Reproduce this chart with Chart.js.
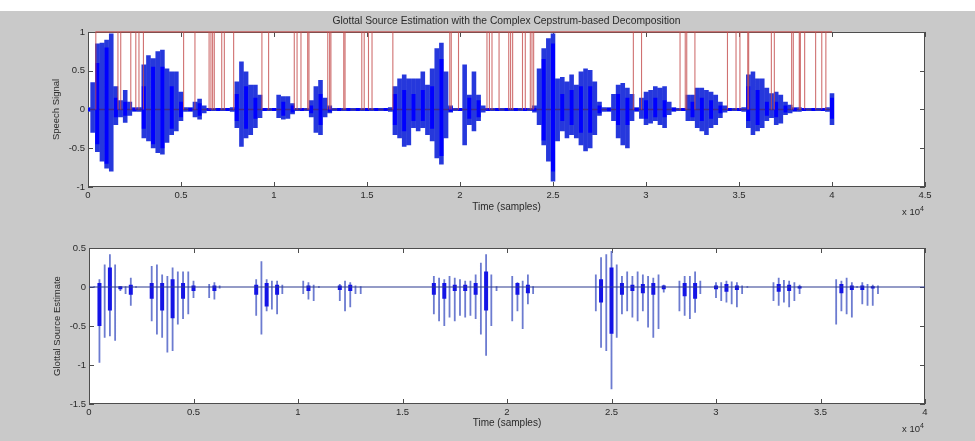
<!DOCTYPE html>
<html>
<head>
<meta charset="utf-8">
<script src="https://cdn.jsdelivr.net/npm/chart.js@4.4.1/dist/chart.umd.min.js"></script>
<style>
  body { margin: 0; width: 975px; height: 441px; overflow: hidden; background: #c9c9c9; position: relative; }
  #strip { position: absolute; left: 0; top: 0; width: 975px; height: 11px; background: #fff; }
  canvas { position: absolute; left: 0; }
  .exp { position: absolute; font: 9.5px 'Liberation Sans', Arial, sans-serif; color: #2a2a2a; line-height: 12px; white-space: nowrap; }
  .exp sup { font-size: 7px; vertical-align: 4px; line-height: 0; }
</style>
</head>
<body>
<div id="strip"></div>
<canvas id="top" width="975" height="222" style="top:0"></canvas>
<canvas id="bottom" width="975" height="219" style="top:222px"></canvas>
<div class="exp" style="left:902px; top:206px">x 10<sup>4</sup></div>
<div class="exp" style="left:902px; top:423px">x 10<sup>4</sup></div>
<script>
// axe x en unites de 10^4 echantillons, un point tous les 250 echantillons
const STEP = 0.025;
const CORE_STEP = 0.05;

// signal de parole : enveloppe haute / basse
const speechHi = [
  0.03,0.35,0.85,0.86,0.90,0.98,0.30,0.12,0.25,0.10,
  0.03,0.03,0.58,0.70,0.66,0.75,0.77,0.53,0.49,0.49,
  0.23,0.03,0.03,0.10,0.14,0.05,0.02,0.02,0.02,0.02,
  0.02,0.03,0.36,0.62,0.49,0.32,0.32,0.19,0.02,0.02,
  0.02,0.19,0.17,0.17,0.08,0.02,0.02,0.02,0.12,0.30,
  0.38,0.15,0.05,0.02,0.02,0.02,0.02,0.02,0.02,0.02,
  0.02,0.02,0.02,0.02,0.02,0.03,0.30,0.40,0.45,0.40,
  0.40,0.40,0.49,0.32,0.53,0.79,0.86,0.49,0.05,0.02,
  0.02,0.58,0.19,0.49,0.19,0.05,0.02,0.02,0.02,0.02,
  0.02,0.02,0.02,0.02,0.02,0.02,0.05,0.53,0.79,0.92,
  0.98,0.40,0.42,0.36,0.45,0.32,0.49,0.53,0.51,0.36,
  0.10,0.03,0.03,0.20,0.32,0.34,0.28,0.20,0.03,0.15,
  0.23,0.25,0.30,0.28,0.30,0.10,0.03,0.02,0.02,0.19,
  0.19,0.28,0.28,0.25,0.23,0.19,0.10,0.05,0.02,0.02,
  0.02,0.03,0.45,0.49,0.40,0.40,0.28,0.21,0.23,0.19,
  0.10,0.06,0.03,0.03,0.02,0.02,0.02,0.02,0.02,0.03,
  0.21
];
const speechLo = [
  -0.03,-0.30,-0.55,-0.67,-0.76,-0.80,-0.20,-0.10,-0.17,-0.08,
  -0.03,-0.03,-0.37,-0.41,-0.50,-0.56,-0.58,-0.43,-0.33,-0.28,
  -0.15,-0.03,-0.03,-0.10,-0.13,-0.05,-0.02,-0.02,-0.02,-0.02,
  -0.02,-0.03,-0.24,-0.48,-0.37,-0.33,-0.24,-0.11,-0.02,-0.02,
  -0.02,-0.11,-0.13,-0.12,-0.06,-0.02,-0.02,-0.02,-0.10,-0.30,
  -0.33,-0.10,-0.05,-0.02,-0.02,-0.02,-0.02,-0.02,-0.02,-0.02,
  -0.02,-0.02,-0.02,-0.02,-0.02,-0.03,-0.33,-0.37,-0.48,-0.46,
  -0.24,-0.28,-0.24,-0.33,-0.41,-0.63,-0.71,-0.37,-0.04,-0.02,
  -0.02,-0.46,-0.20,-0.28,-0.15,-0.04,-0.02,-0.02,-0.02,-0.02,
  -0.02,-0.02,-0.02,-0.02,-0.02,-0.02,-0.04,-0.20,-0.46,-0.67,
  -0.93,-0.41,-0.28,-0.37,-0.33,-0.37,-0.46,-0.54,-0.50,-0.33,
  -0.08,-0.03,-0.03,-0.15,-0.37,-0.46,-0.50,-0.15,-0.03,-0.12,
  -0.20,-0.18,-0.15,-0.20,-0.24,-0.07,-0.03,-0.02,-0.02,-0.15,
  -0.15,-0.24,-0.28,-0.33,-0.24,-0.20,-0.11,-0.04,-0.02,-0.02,
  -0.02,-0.03,-0.24,-0.33,-0.28,-0.24,-0.15,-0.11,-0.20,-0.18,
  -0.07,-0.05,-0.03,-0.03,-0.02,-0.02,-0.02,-0.02,-0.02,-0.03,
  -0.20
];
// partie dense du signal (un point tous les 500 echantillons)
const speechCoreHi = [
  0.02,0.60,0.80,0.15,0.10,0.02,0.30,0.55,0.55,0.30,
  0.10,0.02,0.08,0.02,0.02,0.02,0.20,0.30,0.15,0.02,
  0.02,0.10,0.05,0.02,0.05,0.20,0.03,0.02,0.02,0.02,
  0.02,0.02,0.02,0.20,0.25,0.20,0.25,0.30,0.65,0.03,
  0.02,0.15,0.12,0.02,0.02,0.02,0.02,0.02,0.02,0.65,
  0.85,0.20,0.25,0.30,0.30,0.05,0.02,0.20,0.15,0.02,
  0.12,0.15,0.12,0.02,0.02,0.10,0.15,0.12,0.05,0.02,
  0.02,0.30,0.25,0.10,0.10,0.05,0.02,0.02,0.02,0.02,
  0.15
];
const speechCoreLo = [
  -0.02,-0.45,-0.70,-0.10,-0.08,-0.02,-0.25,-0.45,-0.50,-0.25,
  -0.10,-0.02,-0.08,-0.02,-0.02,-0.02,-0.15,-0.25,-0.12,-0.02,
  -0.02,-0.08,-0.04,-0.02,-0.05,-0.20,-0.03,-0.02,-0.02,-0.02,
  -0.02,-0.02,-0.02,-0.20,-0.28,-0.15,-0.15,-0.25,-0.60,-0.03,
  -0.02,-0.12,-0.10,-0.02,-0.02,-0.02,-0.02,-0.02,-0.02,-0.40,
  -0.80,-0.15,-0.20,-0.30,-0.30,-0.05,-0.02,-0.20,-0.20,-0.02,
  -0.12,-0.10,-0.10,-0.02,-0.02,-0.10,-0.15,-0.12,-0.05,-0.02,
  -0.02,-0.15,-0.20,-0.08,-0.10,-0.04,-0.02,-0.02,-0.02,-0.02,
  -0.12
];
// positions des traits rouges (x 10^4 echantillons)
const redMarks = [
  0.042,0.161,0.176,0.230,0.257,0.274,0.298,0.514,0.575,0.651,
  0.661,0.670,0.679,0.719,0.733,0.783,0.935,0.971,1.109,1.124,
  1.145,1.181,1.188,1.289,1.299,1.306,1.375,1.382,1.472,1.485,
  1.508,1.527,1.639,1.945,1.953,1.992,2.145,2.158,2.172,2.210,
  2.262,2.272,2.283,2.336,2.351,2.378,2.387,2.396,2.932,2.976,
  3.183,3.211,3.219,3.263,3.438,3.484,3.505,3.547,3.552,3.674,
  3.690,3.783,3.792,3.824,3.830,3.853,3.912,3.945,3.967
];
const redStart = 0.04, redEnd = 4.0;

// estimation de la source glottale
const glottalHi = [
  0,0.01,0.10,0.29,0.42,0.29,0.01,0.01,0.12,0.01,
  0,0,0.27,0.29,0.16,0.14,0.25,0.20,0.20,0.20,
  0.08,0,0,0.04,0.06,0.02,0,0,0,0,
  0,0,0.10,0.33,0.10,0.08,0.08,0.03,0,0,
  0,0.08,0.06,0.03,0.01,0,0,0,0.04,0.08,
  0.06,0.02,0.01,0,0,0,0,0,0,0,
  0,0,0,0,0,0,0.14,0.12,0.10,0.14,
  0.12,0.10,0.08,0.08,0.16,0.31,0.42,0.16,0.01,0,
  0,0.14,0.06,0.08,0.16,0.01,0,0,0,0,
  0,0,0,0,0,0,0,0.16,0.38,0.42,
  0.46,0.29,0.14,0.20,0.14,0.20,0.16,0.14,0.12,0.16,
  0.03,0,0,0.08,0.14,0.14,0.20,0.08,0,0,
  0.06,0.06,0.08,0.07,0.06,0.02,0.01,0,0,0,
  0,0.06,0.12,0.09,0.08,0.06,0.03,0,0,0,
  0,0,0,0.10,0.08,0.12,0.06,0.01,0.06,0.04,
  0.03,0.02,0,0,0,0,0,0,0,0,
  0
];
const glottalLo = [
  0,-0.01,-0.97,-0.65,-0.63,-0.69,-0.05,-0.09,-0.24,-0.01,
  0,0,-0.44,-0.61,-0.65,-0.84,-0.82,-0.48,-0.41,-0.35,
  -0.14,0,0,-0.14,-0.16,-0.02,0,0,0,0,
  0,0,-0.37,-0.61,-0.31,-0.29,-0.35,-0.09,0,0,
  0,-0.09,-0.16,-0.18,-0.01,0,0,0,-0.18,-0.31,
  -0.26,-0.09,-0.09,0,0,0,0,0,0,0,
  0,0,0,0,0,0,-0.35,-0.44,-0.50,-0.39,
  -0.44,-0.37,-0.39,-0.37,-0.41,-0.61,-0.88,-0.50,-0.05,0,
  0,-0.44,-0.31,-0.54,-0.22,-0.09,0,0,0,0,
  0,0,0,0,0,0,0,-0.31,-0.78,-0.82,
  -1.31,-0.65,-0.35,-0.31,-0.39,-0.44,-0.31,-0.52,-0.65,-0.54,
  -0.07,0,0,-0.31,-0.37,-0.41,-0.33,-0.09,0,0,
  -0.14,-0.18,-0.20,-0.22,-0.26,-0.09,-0.01,0,0,0,
  0,-0.18,-0.24,-0.20,-0.26,-0.18,-0.09,0,0,0,
  0,0,0,-0.48,-0.31,-0.35,-0.39,-0.01,-0.22,-0.24,
  -0.24,-0.09,0,0,0,0,0,0,0,0,
  0
];
const glottalCoreHi = [
  0,0.05,0.25,0.01,0.03,0,0.05,0.05,0.10,0.05,
  0.02,0,0.02,0,0,0,0.03,0.05,0.03,0,
  0,0.02,0,0,0.02,0.03,0,0,0,0,
  0,0,0,0.05,0.05,0.03,0.03,0.05,0.20,0,
  0,0.05,0.03,0,0,0,0,0,0,0.10,
  0.25,0.05,0.03,0.04,0.05,0.02,0,0.05,0.05,0,
  0.02,0.04,0.02,0,0,0,0.04,0.03,0.01,0,
  0,0,0.04,0.02,0.02,0.01,0,0,0,0,
  0
];
const glottalCoreLo = [
  0,-0.50,-0.30,-0.03,-0.10,0,-0.15,-0.30,-0.40,-0.15,
  -0.05,0,-0.05,0,0,0,-0.10,-0.25,-0.10,0,
  0,-0.05,0,0,-0.04,-0.05,0,0,0,0,
  0,0,0,-0.10,-0.15,-0.05,-0.05,-0.10,-0.30,0,
  0,-0.10,-0.08,0,0,0,0,0,0,-0.20,
  -0.60,-0.10,-0.05,-0.08,-0.10,-0.03,0,-0.12,-0.15,0,
  -0.03,-0.06,-0.04,0,0,0,-0.06,-0.05,-0.02,0,
  0,0,-0.08,-0.04,-0.04,-0.02,0,0,0,0,
  0
];

const speechTicksY = { min: -1, max: 1, step: 0.5 };
const glottalTicksY = { min: -1.5, max: 0.5, step: 0.5 };

// --------------------------------------------------------------
// traits verticaux lo..hi, separes par des trous (null)
const vlines = (hi, lo, step) => {
  const pts = [];
  hi.forEach((h, i) => {
    pts.push({ x: i * step, y: lo[i] }, { x: i * step, y: h }, { x: i * step, y: null });
  });
  return pts;
};
const marks = (xs) => {
  const pts = [];
  xs.forEach(x => pts.push({ x: x, y: 0 }, { x: x, y: 1 }, { x: x, y: null }));
  return pts;
};
const line = (data, color, width, extra) => Object.assign({
  data: data, borderColor: color, borderWidth: width, pointRadius: 0,
  spanGaps: false, tension: 0, borderCapStyle: 'butt'
}, extra || {});

// etiquettes a la matlab : 1, 0.5, 0 (pas 1.0)
const fmt = v => String(Math.round(v * 100) / 100);

Chart.defaults.font.family = "'Liberation Sans', Arial, Helvetica, sans-serif";
Chart.defaults.color = '#2a2a2a';

// fond blanc, cadre et graduations vers l'interieur comme sous matlab
const matlabAxes = {
  id: 'matlabAxes',
  beforeDraw(chart) {
    const { ctx, chartArea: a } = chart;
    ctx.save();
    ctx.fillStyle = '#ffffff';
    ctx.fillRect(a.left, a.top, a.right - a.left, a.bottom - a.top);
    ctx.restore();
  },
  beforeDatasetsDraw(chart) {
    const { ctx, chartArea: a, scales } = chart;
    ctx.save();
    ctx.strokeStyle = '#4d4d4d';
    ctx.lineWidth = 1;
    ctx.beginPath();
    scales.x.ticks.forEach(t => {
      const px = Math.round(scales.x.getPixelForValue(t.value)) + 0.5;
      ctx.moveTo(px, a.bottom); ctx.lineTo(px, a.bottom - 5);
      ctx.moveTo(px, a.top); ctx.lineTo(px, a.top + 5);
    });
    scales.y.ticks.forEach(t => {
      const py = Math.round(scales.y.getPixelForValue(t.value)) + 0.5;
      ctx.moveTo(a.left, py); ctx.lineTo(a.left + 5, py);
      ctx.moveTo(a.right, py); ctx.lineTo(a.right - 5, py);
    });
    ctx.stroke();
    ctx.strokeRect(Math.round(a.left) + 0.5, Math.round(a.top) + 0.5,
      Math.round(a.right - a.left) - 1, Math.round(a.bottom - a.top) - 1);
    ctx.restore();
  }
};

const axisX = (max, height, titlePad) => ({
  type: 'linear', min: 0, max: max, offset: false,
  grid: { display: false, drawTicks: false }, border: { display: false },
  ticks: { stepSize: 0.5, padding: 3, maxRotation: 0, autoSkip: false, font: { size: 9.5 }, callback: fmt },
  title: { display: true, text: 'Time (samples)', font: { size: 10 }, padding: { top: 0, bottom: titlePad } },
  afterFit: s => { s.height = height; }
});
const axisY = (t, label) => ({
  min: t.min, max: t.max,
  grid: { display: false, drawTicks: false }, border: { display: false },
  ticks: { stepSize: t.step, padding: 3, font: { size: 9.5 }, callback: fmt },
  title: { display: true, text: label, font: { size: 9.5 }, padding: { top: 5, bottom: 0 } },
  afterFit: s => { s.width = 42; }
});

const common = {
  animation: false, responsive: false, devicePixelRatio: 1, events: [],
};

new Chart(document.getElementById('top'), {
  type: 'line',
  data: {
    datasets: [
      line([{ x: redStart, y: 1 }, { x: redEnd, y: 1 }], 'rgba(196,78,78,0.9)', 1.2, { clip: 3 }),
      line(marks(redMarks), 'rgba(196,78,78,0.8)', 1.1),
      line(vlines(speechCoreHi, speechCoreLo, CORE_STEP), '#0000ff', 4),
      line([{ x: 0, y: 0 }, { x: 4.0, y: 0 }], '#3c2a8c', 1.6),
      line(vlines(speechHi, speechLo, STEP), '#2638dc', 4.6)
    ]
  },
  options: Object.assign({}, common, {
    layout: { padding: { left: 46, right: 50, top: 0, bottom: 0 } },
    plugins: {
      legend: { display: false }, tooltip: { enabled: false },
      title: {
        display: true, fullSize: false,
        text: 'Glottal Source Estimation with the Complex Cepstrum-based Decomposition',
        font: { size: 10.3, weight: 'normal' }, color: '#2a2a2a',
        padding: { top: 14.8, bottom: 4.8 }
      }
    },
    scales: {
      x: axisX(4.5, 35, 8.3),
      y: axisY(speechTicksY, 'Speech Signal')
    }
  }),
  plugins: [matlabAxes]
});

new Chart(document.getElementById('bottom'), {
  type: 'line',
  data: {
    datasets: [
      line([{ x: 0, y: 0 }, { x: 4.0, y: 0 }], '#2b3990', 1.2),
      line(vlines(glottalCoreHi, glottalCoreLo, CORE_STEP), '#1414e6', 4),
      line(vlines(glottalHi, glottalLo, STEP), '#6c7bd0', 1.8)
    ]
  },
  options: Object.assign({}, common, {
    layout: { padding: { left: 47, right: 50, top: 26, bottom: 0 } },
    plugins: { legend: { display: false }, tooltip: { enabled: false } },
    scales: {
      x: axisX(4, 37, 11.5),
      y: axisY(glottalTicksY, 'Glottal Source Estimate')
    }
  }),
  plugins: [matlabAxes]
});
</script>
</body>
</html>
